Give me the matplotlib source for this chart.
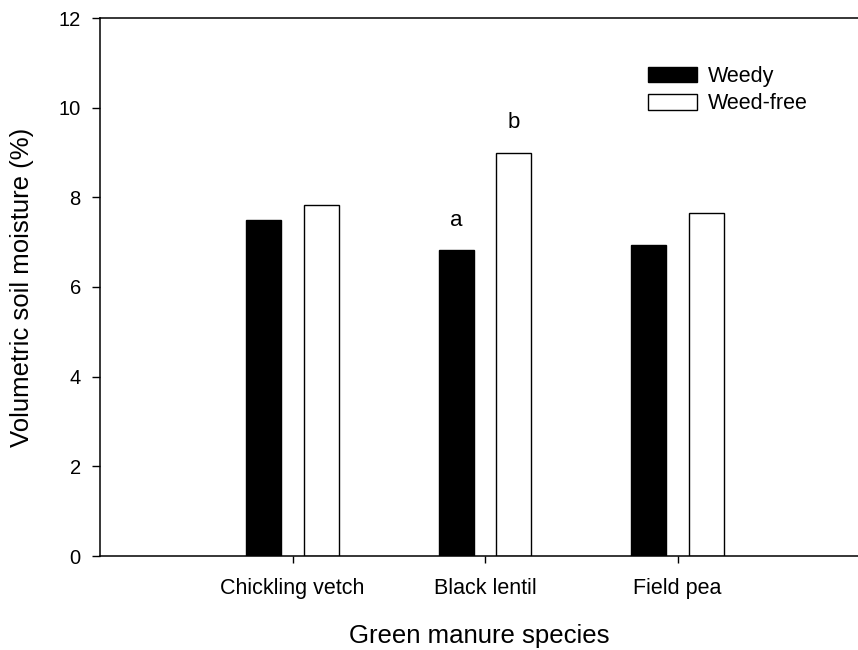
import numpy as np
import matplotlib
matplotlib.use("Agg")
import matplotlib.pyplot as plt

plt.rcParams['font.family'] = ['Liberation Sans', 'DejaVu Sans']

# data
species = ['Chickling vetch', 'Black lentil', 'Field pea']
weedy = [7.50, 6.82, 6.94]
weed_free = [7.84, 9.00, 7.65]
# significance letters: (group index, series, letter)
letters = [(1, 'weedy', 'a'), (1, 'weed_free', 'b')]

fig = plt.figure(figsize=(8.58, 6.5), dpi=100)
ax = fig.add_axes([100 / 858, 94 / 650, 758 / 858, 538 / 650])

x = np.arange(1, len(species) + 1)
width = 0.182
off = 0.149

ax.bar(x - off, weedy, width, color='black', edgecolor='black',
       linewidth=1, label='Weedy')
ax.bar(x + off, weed_free, width, color='white', edgecolor='black',
       linewidth=1, label='Weed-free')

for i, series, txt in letters:
    if series == 'weedy':
        ax.text(x[i] - off, weedy[i] + 0.67, txt, ha='center', va='center', fontsize=16)
    else:
        ax.text(x[i] + off, weed_free[i] + 0.67, txt, ha='center', va='center', fontsize=16)

ax.set_xlim(0, 758 / 192.5)
ax.set_ylim(0, 12)
ax.set_yticks(np.arange(0, 13, 2))
ax.set_xticks(x)
ax.set_xticklabels(species)

ax.spines['right'].set_visible(False)
for s in ['left', 'bottom', 'top']:
    ax.spines[s].set_linewidth(1.1)

ax.tick_params(axis='y', direction='out', length=5.8, width=1, labelsize=14.5, pad=8)
ax.tick_params(axis='x', direction='out', length=5, width=1, labelsize=15.5, pad=11)

ax.set_xlabel('Green manure species', fontsize=18.5, labelpad=18)
ax.set_ylabel('Volumetric soil moisture (%)', fontsize=18.5, labelpad=18)

ax.legend(loc='upper left', bbox_to_anchor=(648 / 858, 1 - 66 / 650),
          bbox_transform=fig.transFigure, frameon=False, fontsize=15.5,
          handlelength=2.28, handleheight=0.75, handletextpad=0.5,
          labelspacing=0.3, borderpad=0, borderaxespad=0)

fig.savefig('out.png', dpi=100)
